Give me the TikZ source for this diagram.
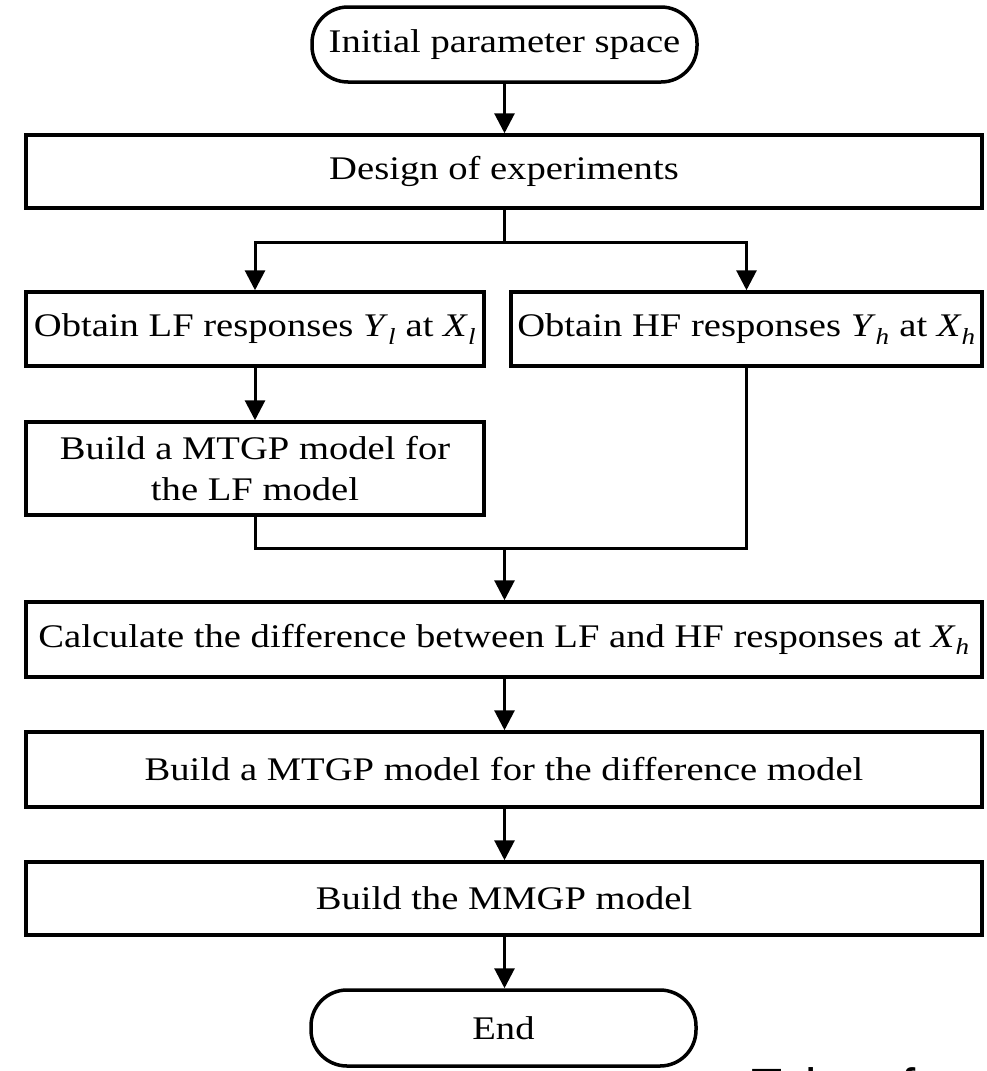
\documentclass[tikz,border=0pt]{standalone}
\usepackage{fontspec}
\setmainfont{Liberation Serif}[FakeStretch=1.17]
\newfontfamily\wmfont{Liberation Sans}
\usetikzlibrary{arrows.meta}
\newcommand{\vsub}[2]{\textit{#1}\textsubscript{\textit{#2}}}
\begin{document}
\begin{tikzpicture}[x=1pt,y=-1pt,
  procbox/.style={draw, line width=3.5pt, inner sep=0pt, align=center, font=\fontsize{33}{41}\selectfont},
  termbox/.style={procbox, rounded corners=36pt},
  conn/.style={line width=3pt, -{Triangle[length=20pt,width=20pt]}},
  plain/.style={line width=3pt}]
\fill[white] (0,0) rectangle (987,1071);
\useasboundingbox (0,0) rectangle (987,1071);

\node[termbox, minimum width=385pt, minimum height=75pt] (init) at (504.5,44.5) {Initial parameter space};
\node[procbox, minimum width=956pt, minimum height=73pt] (design) at (504,171.5) {Design of experiments};
\node[procbox, minimum width=458pt, minimum height=74pt] (lf) at (255,329) {Obtain LF responses \vsub{Y}{l} at \vsub{X}{l}};
\node[procbox, minimum width=471pt, minimum height=74pt] (hf) at (746.5,329) {Obtain HF responses \vsub{Y}{h} at \vsub{X}{h}};
\node[procbox, minimum width=458pt, minimum height=93pt] (mtgp) at (255,468.5) {Build a MTGP model for\\the LF model};
\node[procbox, minimum width=956pt, minimum height=75pt] (calc) at (504,639.5) {Calculate the difference between LF and HF responses at \vsub{X}{h}};
\node[procbox, minimum width=956pt, minimum height=75pt] (diff) at (504,769.5) {Build a MTGP model for the difference model};
\node[procbox, minimum width=956pt, minimum height=73pt] (mmgp) at (504,898.5) {Build the MMGP model};
\node[termbox, minimum width=385pt, minimum height=76pt] (end) at (503.5,1028) {End};

\coordinate (br) at (504.5,242);
\coordinate (jn) at (504.5,548);

\draw[conn] (init.south) -- (init.south |- design.north);
\draw[plain] (br |- design.south) -- (br);
\draw[conn] (br) -| (lf.north);
\draw[conn] (br) -| (hf.north);
\draw[conn] (lf.south) -- (mtgp.north);
\draw[plain] (mtgp.south) |- (jn);
\draw[plain] (hf.south) |- (jn);
\draw[conn] (jn) -- (jn |- calc.north);
\draw[conn] (jn |- calc.south) -- (jn |- diff.north);
\draw[conn] (jn |- diff.south) -- (jn |- mmgp.north);
\draw[conn] (jn |- mmgp.south) -- (jn |- end.north);

\node[anchor=base west, inner sep=0pt, font=\wmfont\fontsize{51}{51}\selectfont] (wm) at (751,1104) {Taken from};
\end{tikzpicture}
\end{document}
